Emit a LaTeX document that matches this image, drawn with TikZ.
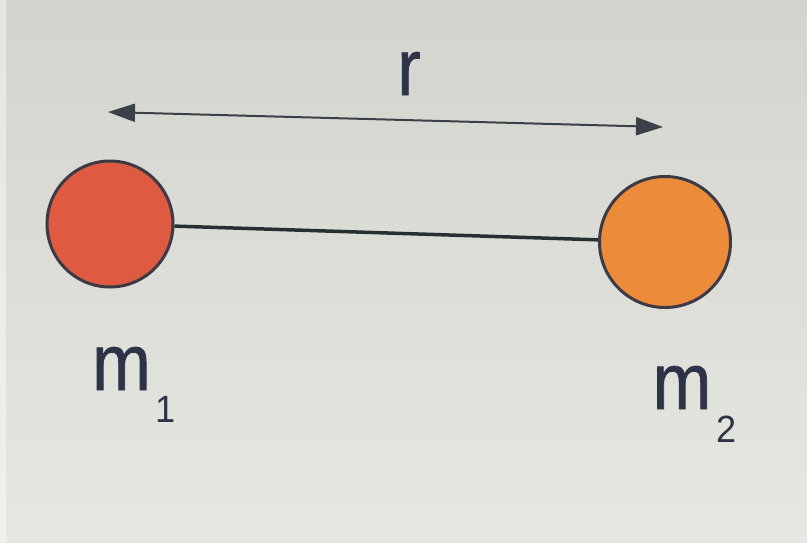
\documentclass[tikz,border=0pt]{standalone}
\usepackage{fontspec}
\setmainfont{Liberation Sans}
\newfontfamily\lblfont[FakeStretch=0.88,FakeBold=0.8]{Liberation Sans}
\newfontfamily\subfont[FakeStretch=0.95]{Liberation Sans}
\usetikzlibrary{arrows.meta}
\definecolor{bgtop}{HTML}{D4D4CE}
\definecolor{bgbot}{HTML}{E7E7E2}
\definecolor{ink}{HTML}{2E3448}
\definecolor{rim}{HTML}{3C3A45}
\definecolor{redmass}{HTML}{DE5A40}
\definecolor{orgmass}{HTML}{EC8B3A}
\definecolor{linecol}{HTML}{263033}
\definecolor{arrcol}{HTML}{3A4048}
\tikzset{
  mass/.style={circle, draw=rim, line width=3pt, inner sep=0pt},
  lbl/.style={text=ink, inner sep=0pt, anchor=base, font=\lblfont\fontsize{80}{80}\selectfont},
  sublbl/.style={text=ink, inner sep=0pt, anchor=base, font=\subfont\fontsize{38}{38}\selectfont},
  dist/.style={draw=arrcol, line width=2pt, {Triangle[length=27pt,width=18pt]}-{Triangle[length=27pt,width=18pt]}},
  rod/.style={draw=linecol, line width=3.5pt}
}
\begin{document}
\begin{tikzpicture}[x=1pt,y=-1pt]
\useasboundingbox (0,0) rectangle (807,542);
\shade[top color=bgtop, bottom color=bgbot] (0,0) rectangle (807,542);
\fill[white, opacity=0.4] (0,0) rectangle (6,542);
\node[mass, fill=redmass, minimum size=126pt] (m1) at (110,224) {};
\node[mass, fill=orgmass, minimum size=131pt] (m2) at (665,242) {};
\draw[rod] (m1) -- (m2);
\coordinate (aL) at (108,112);
\coordinate (aR) at (663,127);
\draw[dist] (aL) -- (aR);
\node[lbl] (r) at (409,95) {r};
\node[lbl] (t1) at (121.5,390) {m};
\node[sublbl] (s1) at (166,422) {1};
\node[lbl] (t2) at (682,409) {m};
\node[sublbl] (s2) at (727,442) {2};
\end{tikzpicture}
\end{document}
